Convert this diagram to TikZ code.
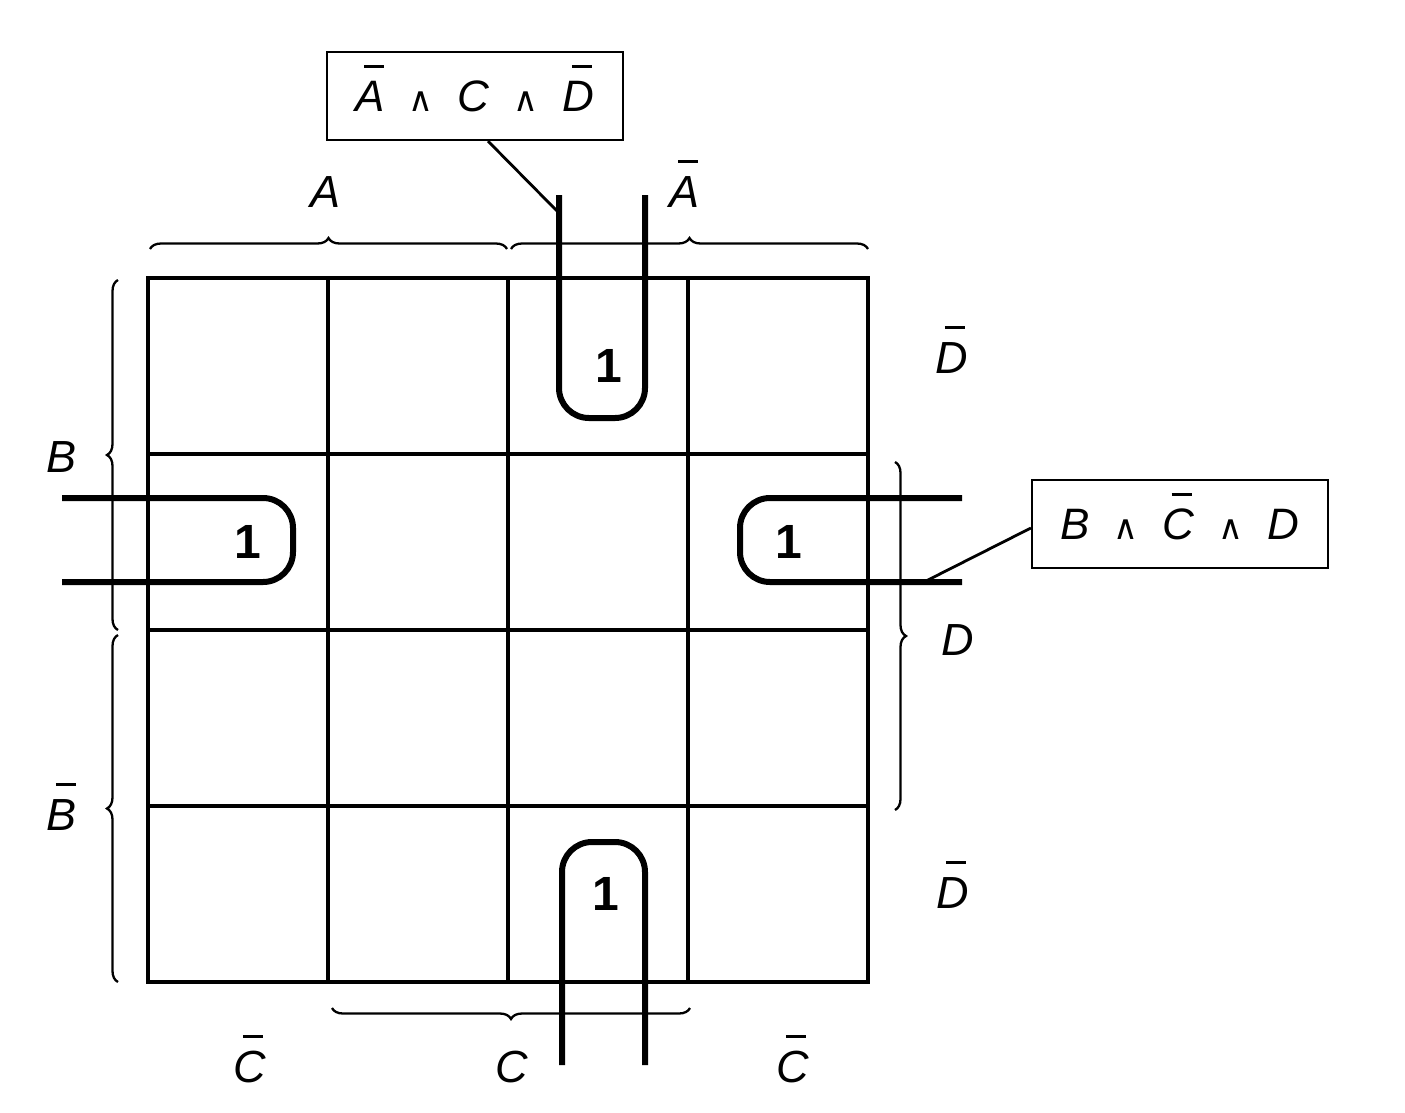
\documentclass[tikz,border=0pt]{standalone}
\usepackage{fontspec}
\setmainfont{Liberation Sans}
\newfontfamily\symfont{DejaVu Sans}
\usetikzlibrary{decorations.pathreplacing}
\newcommand{\nb}[1]{\makebox[0pt][l]{\hspace*{0.2em}\smash{\rule[0.98em]{0.45em}{0.06em}}}#1}
\newcommand{\andop}{\hspace{0.55em}{\upshape\symfont\fontsize{34}{34}\selectfont ∧}\hspace{0.55em}}
\begin{document}
\begin{tikzpicture}[x=1pt,y=-1pt,
  gridline/.style={line width=4.8pt},
  looppath/.style={line width=6pt, rounded corners=30pt},
  brc/.style={decorate, decoration={brace, amplitude=11pt}, line width=2.3pt},
  lbl/.style={font=\fontsize{45}{45}\selectfont\itshape, inner sep=0pt, anchor=base},
  one/.style={font=\fontsize{48}{48}\selectfont\bfseries, inner sep=0pt, anchor=base},
  termbox/.style={draw, line width=2.2pt, minimum width=296pt, minimum height=88pt, inner sep=0pt, font=\fontsize{44}{44}\selectfont\itshape},
  leader/.style={line width=2.8pt}]
\useasboundingbox (0,0) rectangle (1405,1112);
\fill[white] (0,0) rectangle (1405,1112);
% grid
\draw[gridline] (148,278) rectangle (868,982);
\foreach \x in {328,508,688} \draw[gridline] (\x,278) -- (\x,982);
\foreach \y in {454,630,806} \draw[gridline] (148,\y) -- (868,\y);
% braces
\draw[brc] (150,249) -- (507,249);
\draw[brc] (511,249) -- (868,249);
\draw[brc] (118,630) -- (118,280);
\draw[brc] (118,982) -- (118,635);
\draw[brc] (895,462) -- (895,810);
\draw[brc] (690,1008) -- (332,1008);
% labels
\node[lbl] (la) at (326,207) {A};
\node[lbl] (lna) at (684,207) {\nb{A}};
\node[lbl] (lb) at (62,472) {B};
\node[lbl] (lnb) at (62,830) {\nb{B}};
\node[lbl] (lnd1) at (952,373) {\nb{D}};
\node[lbl] (ld) at (958,655) {D};
\node[lbl] (lnd2) at (953,908) {\nb{D}};
\node[lbl] (lnc1) at (250,1082) {\nb{C}};
\node[lbl] (lc) at (512,1082) {C};
\node[lbl] (lnc2) at (793,1082) {\nb{C}};
% loops
\draw[looppath] (559,195) -- (559,418) -- (645,418) -- (645,195);
\draw[looppath] (562,1065) -- (562,842) -- (645,842) -- (645,1065);
\draw[looppath] (62,498) -- (293,498) -- (293,582) -- (62,582);
\draw[looppath] (962,498) -- (740,498) -- (740,582) -- (962,582);
% ones
\node[one] (o1) at (609,382) {1};
\node[one] (o2) at (606,910) {1};
\node[one] (o3) at (248,558) {1};
\node[one] (o4) at (789,558) {1};
% term boxes
\node[termbox] (t1) at (475,96) {\nb{A}\andop C\andop\nb{D}};
\node[termbox] (t2) at (1180,524) {B\andop\nb{C}\andop D};
\coordinate (p1) at (558,212);
\coordinate (p2) at (924,582);
\draw[leader] ([xshift=13pt]t1.south) -- (p1);
\draw[leader] ([yshift=-4pt]t2.west) -- (p2);
\end{tikzpicture}
\end{document}
